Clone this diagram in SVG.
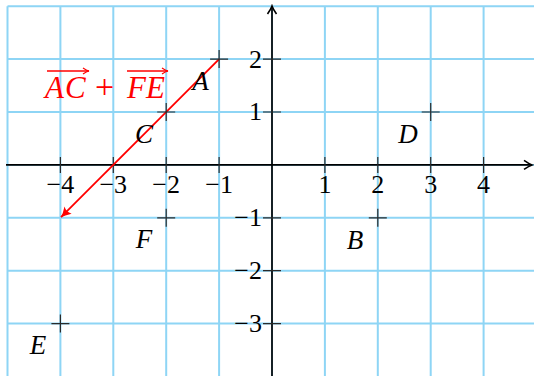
<svg xmlns="http://www.w3.org/2000/svg" width="534" height="376" viewBox="0 0 534 376">
<style>
.grid{stroke:#8ed5f5;stroke-width:2;fill:none}
.axis{stroke:#000;stroke-width:1.7;fill:none}
.tick{stroke:#2a2a2a;stroke-width:1.2;fill:none}
.cross{stroke:#2a2a2a;stroke-width:1.2;fill:none}
.num{font-family:"Liberation Serif","DejaVu Serif",serif;font-size:26px;fill:#000}
.pt{font-family:"Liberation Serif","DejaVu Serif",serif;font-style:italic;font-size:27px;fill:#000;text-anchor:middle}
.vec{font-family:"Liberation Serif","DejaVu Serif",serif;font-size:31px;fill:#f00}
.red{stroke:#f00;stroke-width:1.8;fill:none}
.rthin{stroke:#f00;stroke-width:1.3;fill:none}
</style>
<defs>
<marker id="axarrow" markerUnits="userSpaceOnUse" viewBox="-10 -6 12 12" refX="0" refY="0" markerWidth="12" markerHeight="12" orient="auto">
<path d="M-8,-4.5 Q-3,-1 0,0 Q-3,1 -8,4.5" stroke="#000" stroke-width="1.6" fill="none"/>
</marker>
<marker id="redarrow" markerUnits="userSpaceOnUse" viewBox="-12 -6 14 12" refX="0" refY="0" markerWidth="14" markerHeight="12" orient="auto">
<path d="M-10,-5 Q-4,-1.2 0,0 Q-4,1.2 -10,5 Q-7,0 -10,-5 Z" fill="#f00"/>
</marker>
<marker id="smallarrow" markerUnits="userSpaceOnUse" viewBox="-8 -4 10 8" refX="0" refY="0" markerWidth="10" markerHeight="8" orient="auto">
<path d="M-6,-3 Q-2.5,-0.6 0,0 Q-2.5,0.6 -6,3" stroke="#f00" stroke-width="1.2" fill="none"/>
</marker>
</defs>
<rect width="534" height="376" fill="#fff"/>
<g id="grid">
<path class="grid" d="M7.5,6.2V376M60.4,6.2V376M113.3,6.2V376M166.2,6.2V376M219.1,6.2V376M272,6.2V376M324.9,6.2V376M377.8,6.2V376M430.7,6.2V376M483.6,6.2V376M7.5,6.2H534M7.5,59.1H534M7.5,112H534M7.5,164.9H534M7.5,217.8H534M7.5,270.7H534M7.5,323.6H534"/>
</g>
<g id="axes">
<line class="axis" x1="6" y1="164.9" x2="532" y2="164.9" marker-end="url(#axarrow)"/>
<line class="axis" x1="272" y1="376" x2="272" y2="6" marker-end="url(#axarrow)"/>
<path class="tick" d="M60.4,157V173M113.3,157V173M166.2,157V173M219.1,157V173M324.9,157V173M377.8,157V173M430.7,157V173M483.6,157V173M263,59.1H281M263,112H281M263,217.8H281M263,270.7H281M263,323.6H281"/>
<g class="num" text-anchor="middle">
<text x="60.4" y="193">−4</text>
<text x="113.3" y="193">−3</text>
<text x="166.2" y="193">−2</text>
<text x="219.1" y="193">−1</text>
<text x="324.9" y="193">1</text>
<text x="377.8" y="193">2</text>
<text x="430.7" y="193">3</text>
<text x="483.6" y="193">4</text>
</g>
<g class="num" text-anchor="end">
<text x="262" y="67.5">2</text>
<text x="262" y="120.4">1</text>
<text x="262" y="226.2">−1</text>
<text x="262" y="279.1">−2</text>
<text x="262" y="332">−3</text>
</g>
</g>
<g id="connectors">
<line class="red" x1="219.1" y1="59.1" x2="61" y2="217.2" marker-end="url(#redarrow)"/>
</g>
<g id="vector-label">
<line class="rthin" x1="47" y1="71" x2="89" y2="71" marker-end="url(#smallarrow)"/>
<line class="rthin" x1="127" y1="71" x2="168" y2="71" marker-end="url(#smallarrow)"/>
<text class="vec" y="98"><tspan x="45" font-style="italic">A</tspan><tspan x="65" font-style="italic">C</tspan><tspan x="95" font-size="34">+</tspan><tspan x="127" font-style="italic">F</tspan><tspan x="146" font-style="italic">E</tspan></text>
</g>
<g id="point-A"><path class="cross" d="M210.1,59.1h18M219.1,50.1v18"/><text class="pt" x="200.5" y="90">A</text></g>
<g id="point-C"><path class="cross" d="M157.2,112h18M166.2,103v18"/><text class="pt" x="144" y="143">C</text></g>
<g id="point-D"><path class="cross" d="M421.7,112h18M430.7,103v18"/><text class="pt" x="408" y="143">D</text></g>
<g id="point-B"><path class="cross" d="M368.8,217.8h18M377.8,208.8v18"/><text class="pt" x="355" y="249">B</text></g>
<g id="point-F"><path class="cross" d="M157.2,217.8h18M166.2,208.8v18"/><text class="pt" x="144" y="248">F</text></g>
<g id="point-E"><path class="cross" d="M51.4,323.6h18M60.4,314.6v18"/><text class="pt" x="38" y="354">E</text></g>
</svg>
